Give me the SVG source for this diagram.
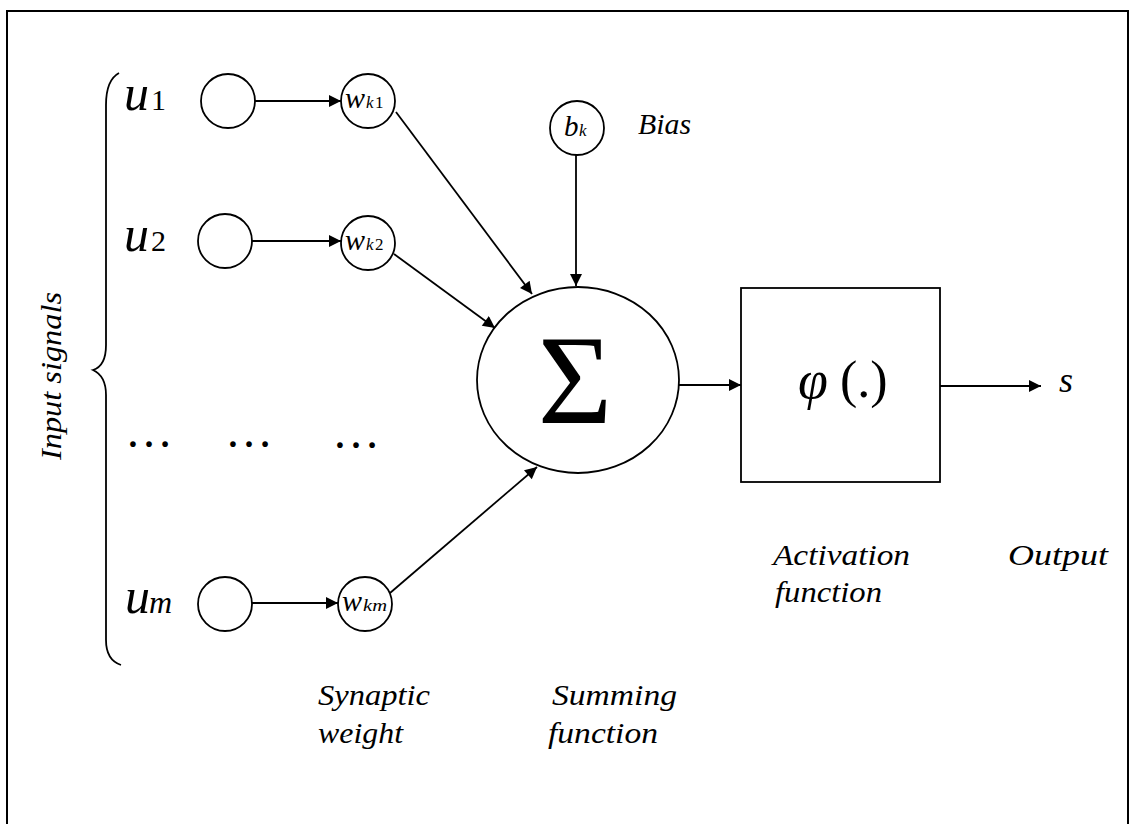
<svg xmlns="http://www.w3.org/2000/svg" width="1136" height="824" viewBox="0 0 1136 824">
<style>
  .ln{fill:none;stroke:#000;stroke-width:1.8}
  .nd{fill:#fff;stroke:#000;stroke-width:1.8}
  .it{font-family:"Liberation Serif",serif;font-style:italic;fill:#000}
  .rm{font-family:"Liberation Serif",serif;fill:#000}
  .lbl{font-family:"Liberation Serif",serif;font-style:italic;font-size:29px;fill:#000}
</style>
<defs>
  <marker id="ah" viewBox="0 0 10 10" refX="10" refY="5" markerWidth="15" markerHeight="12" markerUnits="userSpaceOnUse" orient="auto">
    <path d="M0,0 L10,5 L0,10 z" fill="#000"/>
  </marker>
</defs>
<rect x="7" y="11" width="1121" height="830" fill="#fff" stroke="#000" stroke-width="2"/>

<g id="brace">
  <path class="ln" d="M119,73 Q106,80 106,105 L106,345 Q106,366 93,370 Q106,376 106,395 L106,640 Q106,660 121,665" stroke-width="1.6"/>
  <text class="lbl" transform="translate(61,460) rotate(-90)" textLength="168" lengthAdjust="spacingAndGlyphs">Input signals</text>
</g>

<g id="connectors">
  <line class="ln" x1="255" y1="101" x2="341" y2="101" marker-end="url(#ah)"/>
  <line class="ln" x1="252" y1="241" x2="341" y2="241" marker-end="url(#ah)"/>
  <line class="ln" x1="252" y1="603" x2="338" y2="603" marker-end="url(#ah)"/>
  <line class="ln" x1="396" y1="112" x2="532" y2="294" marker-end="url(#ah)"/>
  <line class="ln" x1="394" y1="254" x2="495" y2="328" marker-end="url(#ah)"/>
  <line class="ln" x1="390" y1="593" x2="537" y2="467" marker-end="url(#ah)"/>
  <line class="ln" x1="576" y1="155" x2="576" y2="286" marker-end="url(#ah)"/>
  <line class="ln" x1="678" y1="385" x2="741" y2="385" marker-end="url(#ah)"/>
  <line class="ln" x1="940" y1="386" x2="1041" y2="386" marker-end="url(#ah)"/>
</g>

<g id="u1">
  <text class="it" x="124" y="110" font-size="50">u</text><text class="rm" x="151" y="110" font-size="30">1</text>
  <circle class="nd" cx="228" cy="101" r="27"/>
</g>
<g id="u2">
  <text class="it" x="124" y="251" font-size="50">u</text><text class="rm" x="151" y="251" font-size="30">2</text>
  <circle class="nd" cx="225" cy="241" r="27"/>
</g>
<g id="um">
  <text class="it" x="125" y="613" font-size="50">u</text><text class="it" x="149" y="613" font-size="32">m</text>
  <circle class="nd" cx="225" cy="604" r="27"/>
</g>

<g id="dots">
  <text class="rm" x="125" y="447" font-size="48">…</text>
  <text class="rm" x="225" y="447" font-size="48">…</text>
  <text class="rm" x="332" y="448" font-size="48">…</text>
</g>

<g id="wk1">
  <circle class="nd" cx="368" cy="101" r="27"/>
  <text class="it" x="345" y="108" font-size="30">w</text><text class="it" x="366" y="108" font-size="17">k</text><text class="rm" x="375" y="108" font-size="17">1</text>
</g>
<g id="wk2">
  <circle class="nd" cx="368" cy="243" r="27"/>
  <text class="it" x="345" y="250" font-size="30">w</text><text class="it" x="366" y="250" font-size="17">k</text><text class="rm" x="375" y="250" font-size="17">2</text>
</g>
<g id="wkm">
  <circle class="nd" cx="365" cy="604" r="27"/>
  <text class="it" x="342" y="611" font-size="30">w</text><text class="it" x="363" y="611" font-size="17" textLength="24" lengthAdjust="spacingAndGlyphs">km</text>
</g>

<g id="bias">
  <circle class="nd" cx="577" cy="128" r="27"/>
  <text class="it" x="564" y="136" font-size="29">b</text><text class="it" x="579" y="136" font-size="17">k</text>
  <text class="lbl" x="638" y="134" textLength="53" lengthAdjust="spacingAndGlyphs">Bias</text>
</g>

<g id="sum">
  <ellipse class="nd" cx="578" cy="380" rx="101" ry="93"/>
  <text class="rm" x="575" y="423" font-size="128" text-anchor="middle">Σ</text>
</g>

<g id="activation">
  <rect class="nd" x="741" y="288" width="199" height="194"/>
  <text class="it" x="798" y="398" font-size="54">φ</text><text class="rm" x="840" y="397" font-size="52">(.)</text>
</g>

<g id="output">
  <text class="it" x="1059" y="392" font-size="36">s</text>
</g>

<g id="labels">
  <text class="lbl" x="318" y="705" textLength="112" lengthAdjust="spacingAndGlyphs">Synaptic</text>
  <text class="lbl" x="318" y="743" textLength="85" lengthAdjust="spacingAndGlyphs">weight</text>
  <text class="lbl" x="552" y="705" textLength="125" lengthAdjust="spacingAndGlyphs">Summing</text>
  <text class="lbl" x="548" y="743" textLength="110" lengthAdjust="spacingAndGlyphs">function</text>
  <text class="lbl" x="773" y="565" textLength="137" lengthAdjust="spacingAndGlyphs">Activation</text>
  <text class="lbl" x="775" y="602" textLength="107" lengthAdjust="spacingAndGlyphs">function</text>
  <text class="lbl" x="1008" y="565" textLength="100" lengthAdjust="spacingAndGlyphs">Output</text>
</g>
</svg>
